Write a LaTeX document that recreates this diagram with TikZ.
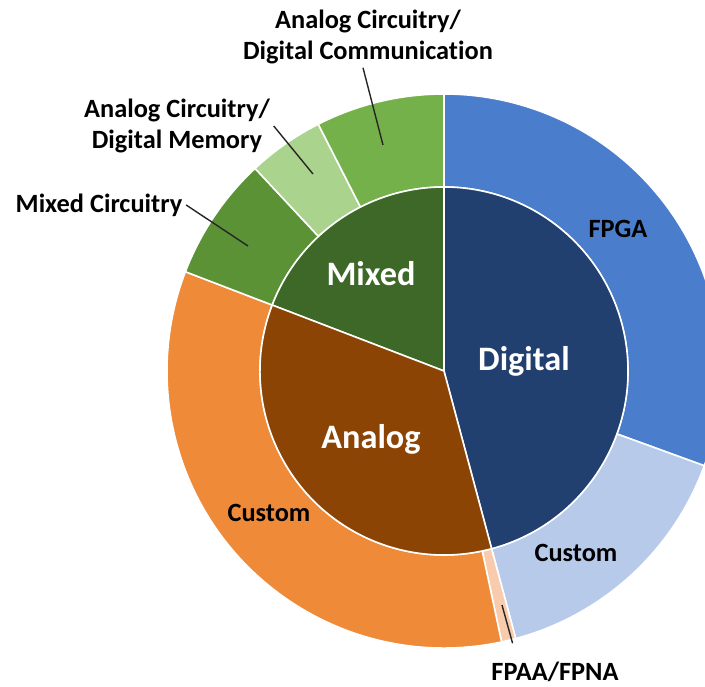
\documentclass[tikz,border=0pt]{standalone}
\usepackage{fontspec}
\setmainfont{Carlito}[Ligatures=NoCommon]
\usepackage{tikz}
\usetikzlibrary{positioning,calc}
\definecolor{digdark}{RGB}{33,63,111}
\definecolor{fpgablue}{RGB}{74,125,203}
\definecolor{digcustom}{RGB}{183,202,234}
\definecolor{anadark}{RGB}{140,68,5}
\definecolor{anacustom}{RGB}{239,138,56}
\definecolor{fpaapeach}{RGB}{248,203,173}
\definecolor{mixdark}{RGB}{61,104,39}
\definecolor{mixcirc}{RGB}{92,146,54}
\definecolor{mixmem}{RGB}{170,211,142}
\definecolor{mixcomm}{RGB}{117,177,74}
\tikzset{
  wedge/.style={draw=white, line width=0.9pt},
  biglbl/.style={text=white, font=\fontsize{19.5}{22}\selectfont\bfseries, inner sep=1pt},
  seglbl/.style={text=black, font=\fontsize{15}{17.5}\selectfont\bfseries, inner sep=2pt, align=center},
  leader/.style={draw=black!85, line width=0.8pt}
}

\begin{document}
\begin{tikzpicture}
  \clip (-8.88,-6.32) rectangle (5.22,7.42);
  \def\rin{3.68}
  \def\rout{5.54}

  % Outer ring
  \foreach \a/\b/\col in {-20/90/fpgablue, -75/-20/digcustom, -78/-75/fpaapeach,
                          159/282/anacustom, 133/159/mixcirc, 117/133/mixmem, 90/117/mixcomm}{
    \filldraw[wedge, fill=\col] (\a:\rin) arc[start angle=\a, end angle=\b, radius=\rin]
      -- (\b:\rout) arc[start angle=\b, end angle=\a, radius=\rout] -- cycle;
  }

  % Inner pie
  \foreach \a/\b/\col in {-75/90/digdark, 90/159/mixdark, 159/285/anadark}{
    \filldraw[wedge, fill=\col] (0,0) -- (\a:\rin)
      arc[start angle=\a, end angle=\b, radius=\rin] -- cycle;
  }

  % Inner labels
  \node[biglbl] (digital) at (1.6,0.2) {Digital};
  \node[biglbl] (mixed) at (-1.46,1.94) {Mixed};
  \node[biglbl] (analog) at (-1.46,-1.36) {Analog};

  % Ring labels
  \node[seglbl] (lblfpga) at (3.48,2.84) {FPGA};
  \node[seglbl] (lbldigcus) at (2.64,-3.64) {Custom};
  \node[seglbl] (lblanacus) at (-3.5,-2.84) {Custom};

  % Outside labels with leaders
  \node[seglbl] (lblcomm) at (-1.52,6.68) {Analog Circuitry/\\Digital Communication};
  \node[seglbl] (lblmem) at (-5.34,4.9) {Analog Circuitry/\\Digital Memory};
  \node[seglbl] (lblmixc) at (-6.9,3.32) {Mixed Circuitry};
  \node[seglbl] (lblfpaa) at (2.22,-6.02) {FPAA/FPNA};

  \coordinate (pcomm) at (-1.22,4.52);
  \coordinate (pmem) at (-2.62,3.94);
  \coordinate (pmixc) at (-3.92,2.5);
  \coordinate (pfpaa) at (1.16,-4.68);

  \draw[leader] ([xshift=-0.1cm]lblcomm.south) -- (pcomm);
  \draw[leader] (lblmem.east) -- (pmem);
  \draw[leader] (lblmixc.east) -- (pmixc);
  \draw[leader] (pfpaa) -- ([shift={(0.5,0.3)}]lblfpaa.north west);
\end{tikzpicture}
\end{document}
